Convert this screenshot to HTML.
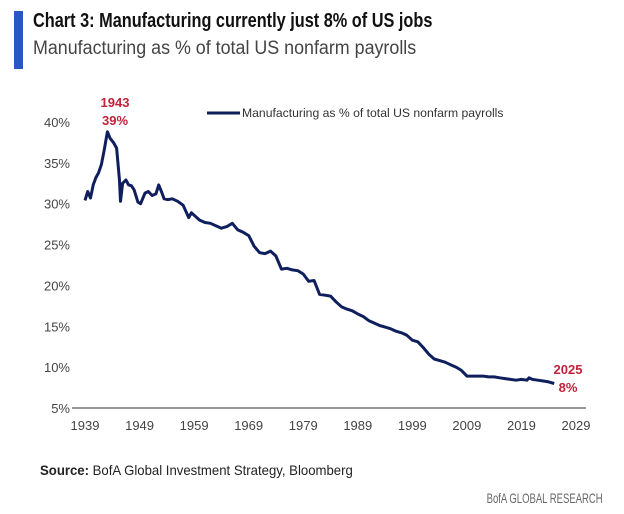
<!DOCTYPE html>
<html><head><meta charset="utf-8"><style>
body{margin:0;background:#fff;width:624px;height:514px;overflow:hidden;font-family:"Liberation Sans",sans-serif;}
.sq{transform-origin:0 0;white-space:nowrap;}
</style></head><body>
<div style="position:relative;width:624px;height:514px;">
<div style="position:absolute;left:14px;top:11px;width:9px;height:58px;background:#2855c8;"></div>
<div class="sq" style="position:absolute;left:33px;top:10px;font-size:20px;font-weight:bold;color:#111;transform:scaleX(0.815);">Chart 3: Manufacturing currently just 8% of US jobs</div>
<div class="sq" style="position:absolute;left:33px;top:38px;font-size:19px;color:#444;transform:scaleX(0.94);">Manufacturing as % of total US nonfarm payrolls</div>
<svg id="chart" width="624" height="514" style="position:absolute;left:0;top:0"></svg>
<div class="sq" style="position:absolute;left:40px;top:462px;font-size:14px;color:#222;transform:scaleX(0.94);"><b>Source:</b> BofA Global Investment Strategy, Bloomberg</div>
<div class="sq" style="position:absolute;right:21px;top:490px;font-size:14px;color:#666;transform:scaleX(0.68);transform-origin:100% 0;">BofA GLOBAL RESEARCH</div>
</div>
<script>
const years=[1939,1939.5,1940,1940.5,1941,1941.5,1942,1942.5,1943.1,1943.6,1944.2,1944.8,1945.3,1945.5,1945.9,1946.5,1947,1947.5,1948,1948.7,1949.2,1950,1950.6,1951.3,1952,1952.5,1953,1953.5,1954.2,1955,1956,1957,1958,1958.5,1959,1960,1961,1962,1963,1964,1965,1966,1967,1968,1969,1970,1971,1972,1973,1974,1975,1976,1977,1978,1979,1980,1981,1982,1983,1984,1985,1986,1987,1988,1989,1990,1991,1992,1993,1994,1995,1996,1997,1998,1999,2000,2001,2002,2003,2004,2005,2006,2007,2008,2009,2010,2011,2012,2013,2014,2015,2016,2017,2018,2019,2020,2020.4,2021,2022,2023,2024,2025];
const values=[30.4,31.5,30.7,32.3,33.2,33.8,34.8,36.5,38.8,38.0,37.5,36.8,33.0,30.3,32.5,32.9,32.3,32.2,31.7,30.2,30.0,31.3,31.5,31.0,31.2,32.3,31.5,30.6,30.5,30.6,30.3,29.8,28.3,28.9,28.6,28.0,27.7,27.6,27.3,27.0,27.2,27.6,26.8,26.5,26.1,24.8,24.0,23.9,24.2,23.6,22.0,22.1,21.9,21.8,21.4,20.5,20.6,18.9,18.8,18.7,18.0,17.4,17.1,16.9,16.5,16.2,15.7,15.4,15.1,14.9,14.7,14.4,14.2,13.9,13.3,13.1,12.4,11.6,11.0,10.8,10.6,10.3,10.0,9.6,8.9,8.9,8.9,8.9,8.8,8.8,8.7,8.6,8.5,8.4,8.5,8.4,8.7,8.5,8.4,8.3,8.2,8.0];
const xTicks=[1939,1949,1959,1969,1979,1989,1999,2009,2019,2029];
const yTicks=[5,10,15,20,25,30,35,40];
const NS="http://www.w3.org/2000/svg";
const svg=document.getElementById('chart');
const X=y=>85+(y-1939)*(491/90);
const Y=v=>408-(v-5)*(286/35);
function mk(t,a){const e=document.createElementNS(NS,t);for(const k in a)e.setAttribute(k,a[k]);svg.appendChild(e);return e;}
const ax=mk('line',{x1:72,x2:586,y1:408,y2:408,stroke:'#777','stroke-width':1.5});


yTicks.forEach(v=>{const t=mk('text',{x:70,y:Y(v)+5,'text-anchor':'end','font-size':13,fill:'#444','font-family':'Liberation Sans, sans-serif'});t.textContent=v+'%';

});
xTicks.forEach(y=>{const t=mk('text',{x:X(y),y:430,'text-anchor':'middle','font-size':13,fill:'#444','font-family':'Liberation Sans, sans-serif'});t.textContent=y;

});
const d=years.map((y,i)=>(i?'L':'M')+X(y).toFixed(1)+','+Y(values[i]).toFixed(1)).join('');
const p=mk('path',{d:d,fill:'none',stroke:'#0f1f5e','stroke-width':3,'stroke-linejoin':'round'});


const ll=mk('line',{x1:207,x2:240,y1:113,y2:113,stroke:'#0f1f5e','stroke-width':3});


const lt=mk('text',{x:242,y:117,'font-size':12.2,fill:'#333','font-family':'Liberation Sans, sans-serif'});lt.textContent='Manufacturing as % of total US nonfarm payrolls';


[['1943',115,107],['39%',115,125],['2025',568,374],['8%',568,392]].forEach(a=>{const t=mk('text',{x:a[1],y:a[2],'text-anchor':'middle','font-size':13,'font-weight':'bold',fill:'#c0233a','font-family':'Liberation Sans, sans-serif'});t.textContent=a[0];

});
</script>
</body></html>
